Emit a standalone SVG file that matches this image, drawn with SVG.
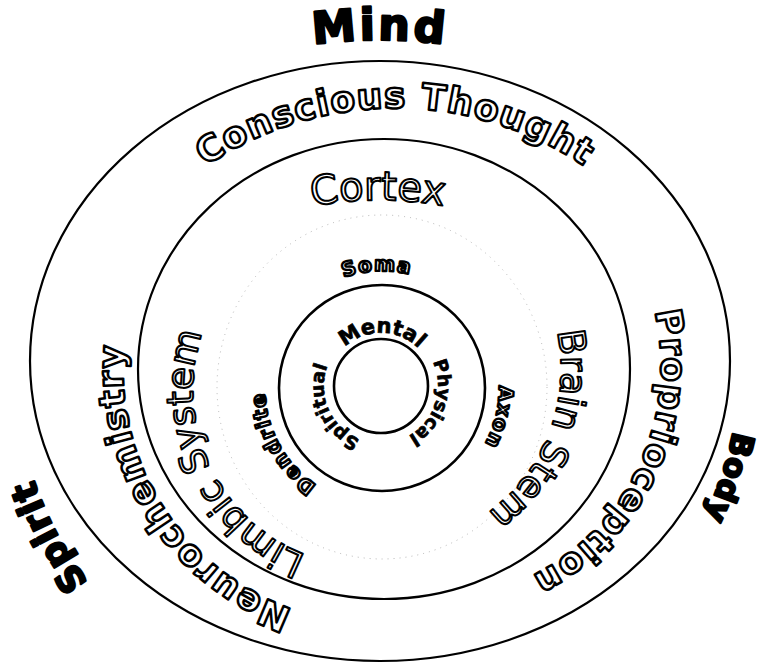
<svg xmlns="http://www.w3.org/2000/svg" xmlns:xlink="http://www.w3.org/1999/xlink" width="762" height="663" viewBox="0 0 762 663">
<style>
.line{fill:none;stroke:#000;stroke-width:2.2}
.ringl{fill:none;stroke:#000;stroke-width:2.6}
.dots{fill:none;stroke:#999;stroke-width:1;stroke-dasharray:1 5;opacity:.7}
text{font-family:"DejaVu Sans","Liberation Sans",sans-serif;text-anchor:middle}
.heavy{font-weight:bold;fill:#000;stroke:#000;stroke-width:2.4;stroke-linejoin:round}
.big{font-weight:bold;fill:#fff;stroke:#000;stroke-width:2.5;stroke-linejoin:round;font-size:36px;letter-spacing:1px}
.mid{font-weight:normal;fill:#fff;stroke:#000;stroke-width:2;stroke-linejoin:round}
.ring{font-weight:bold;fill:#000;stroke:#000;stroke-width:.7}
.small{font-weight:bold;fill:#fff;stroke:#000;stroke-width:2.4;stroke-linejoin:round;font-size:20px;letter-spacing:1.5px}
</style>
<defs>
<path id="pMind" d="M209,70.2 A500,500 0 0 1 551,70.2"/>
<path id="pCT" d="M136.9,228.4 A337,337 0 0 1 653.1,228.4"/>
<path id="pProp" d="M618.5,231.2 A235,235 0 0 1 446.5,600.1"/>
<path id="pNeuro" d="M389.1,623.8 A255,255 0 0 1 151.8,251.3"/>
<path id="pCortex" d="M254.9,221.7 A360,360 0 0 1 501.1,221.7"/>
<path id="pBrain" d="M500.1,235.4 A177,177 0 0 1 380.9,546"/>
<path id="pLimbic" d="M400.7,564.3 A177,177 0 0 1 256.2,254.4"/>
<path id="pMental" d="M328.3,380.5 A53,53 0 0 1 433.9,382.3"/>
<path id="pPhys" d="M403.3,333.5 A57,57 0 0 1 368.2,441.5"/>
<path id="pSpir" d="M399.6,439.9 A57,57 0 0 1 353.4,336.1"/>
<path id="pSoma" d="M278.3,333.8 A117,117 0 0 1 480.8,325.3"/>
<path id="pAxon" d="M463.3,303.8 A117,117 0 0 1 414.2,500.5"/>
<path id="pDend" d="M400.3,503.6 A117,117 0 0 1 293.7,311.2"/>
<path id="pBody" d="M739.9,351.6 A360,360 0 0 1 661.7,585.1"/>
<path id="pSpirit" d="M159.7,653.3 A366,366 0 0 1 14.5,380.1"/>
</defs>
<rect width="762" height="663" fill="#fff"/>
<g id="connectors"/>
<g id="outer-ring">
<ellipse class="line" cx="380" cy="361" rx="350" ry="300"/>
<text class="big"><textPath href="#pCT" startOffset="50%">Conscious Thought</textPath></text>
<text class="big"><textPath href="#pProp" startOffset="50%">Proprioception</textPath></text>
<text class="big"><textPath href="#pNeuro" startOffset="50%">Neurochemistry</textPath></text>
</g>
<g id="middle-ring">
<ellipse class="line" cx="384" cy="369" rx="246" ry="230"/>
<text class="mid" font-size="40"><textPath href="#pCortex" startOffset="50%">Cortex</textPath></text>
<text class="mid" font-size="37"><textPath href="#pBrain" startOffset="50%">Brain Stem</textPath></text>
<text class="mid" font-size="37"><textPath href="#pLimbic" startOffset="50%">Limbic System</textPath></text>
</g>
<g id="neuron-ring">
<ellipse class="dots" cx="382" cy="387" rx="165" ry="172"/>
<text class="small"><textPath href="#pSoma" startOffset="50%">Soma</textPath></text>
<text class="small"><textPath href="#pAxon" startOffset="50%">Axon</textPath></text>
<text class="small"><textPath href="#pDend" startOffset="50%">Dendrite</textPath></text>
</g>
<g id="core-ring">
<circle class="ringl" cx="382" cy="388" r="103"/>
<circle class="ringl" cx="381" cy="386" r="47"/>
<text class="ring" font-size="21"><textPath href="#pMental" startOffset="50%">Mental</textPath></text>
<text class="ring" font-size="18.5"><textPath href="#pPhys" startOffset="50%">Physical</textPath></text>
<text class="ring" font-size="18.5"><textPath href="#pSpir" startOffset="50%">Spiritual</textPath></text>
</g>
<g id="mind"><text class="heavy" font-size="44" letter-spacing="3"><textPath href="#pMind" startOffset="50%">Mind</textPath></text></g>
<g id="body"><text class="heavy" font-size="31" letter-spacing="1"><textPath href="#pBody" startOffset="50%">Body</textPath></text></g>
<g id="spirit"><text class="heavy" font-size="36" letter-spacing="1"><textPath href="#pSpirit" startOffset="50%">Spirit</textPath></text></g>
</svg>
